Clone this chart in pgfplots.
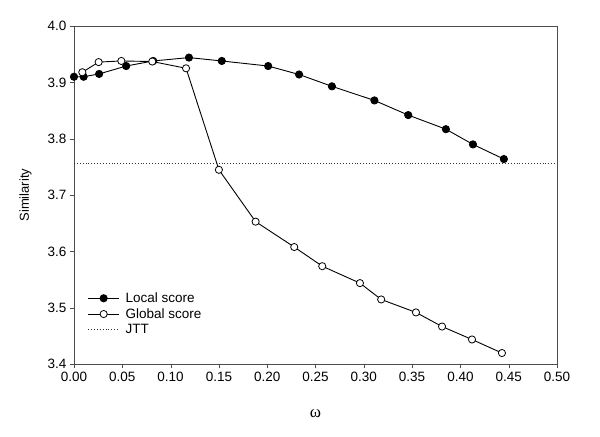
\documentclass[border=0pt]{standalone}
\usepackage{pgfplots}
\pgfplotsset{compat=1.18}
\usepackage{fontspec}
\setmainfont{Liberation Sans}
\newfontfamily\seriffont{Liberation Serif}
\begin{document}
\begin{tikzpicture}
\useasboundingbox[fill=white] (-74bp,-72.7bp) rectangle (526bp,364.3bp);
\begin{axis}[
  scale only axis,
  width=483bp, height=338.3bp,
  xmin=0, xmax=0.5, ymin=3.4, ymax=4.0,
  xtick={0,0.05,...,0.5},
  ytick={3.4,3.5,...,4.0},
  /pgf/number format/assume math mode=true,
  xticklabel style={/pgf/number format/.cd,fixed,fixed zerofill,precision=2},
  yticklabel style={/pgf/number format/.cd,fixed,fixed zerofill,precision=1},
  ticklabel style={font=\fontsize{13.5bp}{15bp}\selectfont},
  tick align=outside,
  xtick pos=bottom, ytick pos=left,
  major tick length=4bp,
  axis line style={draw=black!70},
  tick style={black!70},
  xlabel={\seriffont\fontsize{17bp}{19bp}\selectfont ω},
  ylabel={Similarity},
  ylabel style={font=\fontsize{13bp}{15bp}\selectfont, at={(axis description cs:0,0.5)}, anchor=south, yshift=39bp},
  xlabel style={at={(axis description cs:0.5,0)}, anchor=center, yshift=-49bp},
  legend style={draw=none, fill=none, at={(axis cs:0.014,3.531)}, anchor=north west,
    font=\fontsize{13.5bp}{15.5bp}\selectfont, row sep=0.5bp, column sep=4bp, inner sep=0pt},
  legend cell align=left,
  legend image code/.code={\draw[mark repeat=2,mark phase=2,#1] plot coordinates {(0bp,0bp)(15.5bp,0bp)(31bp,0bp)};},
  every axis plot/.append style={line width=0.9bp},
]
\addplot[black, mark=*, mark size=3.6bp, mark options={fill=black}] coordinates {
(0.000,3.910) (0.010,3.910) (0.026,3.915) (0.054,3.929) (0.082,3.938)
(0.119,3.944) (0.153,3.938) (0.201,3.929) (0.233,3.914) (0.267,3.893)
(0.311,3.868) (0.346,3.842) (0.385,3.817) (0.413,3.790) (0.445,3.764)
};
\addlegendentry{Local score}
\addplot[black, mark=*, mark size=3.6bp, mark options={fill=white, line width=0.8bp}] coordinates {
(0.0086,3.918) (0.0255,3.936) (0.049,3.938) (0.081,3.937) (0.116,3.925)
(0.150,3.745) (0.188,3.653) (0.228,3.608) (0.257,3.574) (0.296,3.544)
(0.318,3.515) (0.354,3.492) (0.381,3.467) (0.412,3.444) (0.443,3.420)
};
\addlegendentry{Global score}
\addplot[black!80, dotted, line width=0.8bp] coordinates {(0,3.757) (0.5,3.757)};
\addlegendentry{JTT}
\end{axis}
\end{tikzpicture}
\end{document}
